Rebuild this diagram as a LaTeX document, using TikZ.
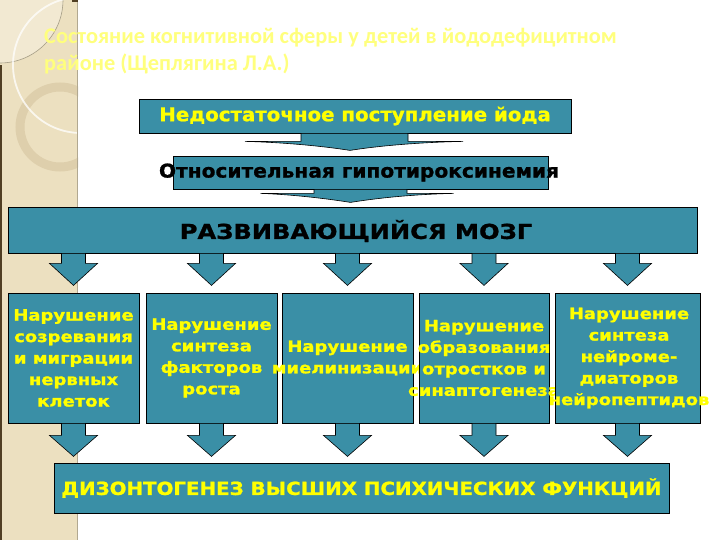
\documentclass[tikz,border=0pt]{standalone}
\usepackage{fontspec}
\setmainfont{DejaVu Sans}
\newfontfamily\titlefont{Carlito}
\newfontfamily\fbig[FakeStretch=1.18,FakeBold=1.2]{DejaVu Sans}
\newfontfamily\flow[FakeStretch=1.16,FakeBold=1.2]{DejaVu Sans}
\newfontfamily\fbot[FakeStretch=1.10,FakeBold=1.2]{DejaVu Sans}
\newfontfamily\fone[FakeStretch=1.04,FakeBold=1]{DejaVu Sans}
\newfontfamily\ftwo[FakeStretch=1.06,FakeBold=1]{DejaVu Sans}
\usetikzlibrary{calc}
\definecolor{tealbox}{RGB}{58,143,166}
\definecolor{ylw}{RGB}{255,255,0}
\definecolor{ttl}{RGB}{255,255,125}
\definecolor{beige}{RGB}{236,224,192}
\definecolor{beigelt}{RGB}{242,233,210}
\definecolor{ringc}{RGB}{222,207,172}
\definecolor{edgec}{RGB}{80,62,35}
\tikzset{
  boxst/.style={draw=black, line width=0.8pt, fill=tealbox, inner sep=0pt},
  arr/.style={draw=black, line width=0.6pt, fill=tealbox},
  ytext/.style={text=ylw, font=\flow\bfseries\fontsize{15.5}{21.5}\selectfont, align=center, inner sep=0pt},
  titlest/.style={anchor=west, text=ttl, font=\titlefont\bfseries\fontsize{22.4}{26}\selectfont, inner sep=0pt},
}
\newcommand{\dnarr}[3]{% top coordinate, shaft length, head length
  \draw[arr] (#1) ++(-12,0) -- ++(24,0) -- ++(0,#2) -- ++(12,0) -- ++(-24,#3) -- ++(-24,-#3) -- ++(12,0) -- cycle;}
\begin{document}
\begin{tikzpicture}[x=1pt,y=-1pt]
\useasboundingbox (0,0) rectangle (720,540);
\fill[white] (0,0) rectangle (720,540);
% decorative strip
\begin{scope}
  \clip (0,0) rectangle (78,540);
  \fill[beige] (0,0) rectangle (78,540);
  \fill[beigelt] (0,0) -- (63,0) arc (0:90:63) -- cycle;
  \draw[black!30!beige, line width=0.6pt] (63,0) arc (0:90:63);
  \draw[ringc, line width=9pt] (60,127) circle (40);
  \draw[white, opacity=0.75, line width=1.8pt] (81,65) circle (68);
  \fill[edgec] (0,65) rectangle (1.5,540);
  \draw[black!25!beige, line width=1pt] (77.5,0) -- (77.5,540);
  \fill[edgec] (72,0) rectangle (78,2);
\end{scope}
% title
\node[titlest] (t1) at (44,38) {Состояние когнитивной сферы у детей в йододефицитном};
\node[titlest] (t2) at (44,64) {районе (Щеплягина Л.А.)};
% top boxes
\node[boxst, minimum width=432pt, minimum height=34pt] (n1) at (355,116) {};
\node[text=ylw, font=\fone\bfseries\fontsize{19}{22}\selectfont, inner sep=0pt] (n1t) at (n1.center) {Недостаточное поступление йода};
\begin{scope}[shift={(n1.south)}]
  \draw[arr] (-54,0) -- (53,0) -- (53,8) -- (108,8) .. controls (60,9) and (20,13) .. (-5,17) .. controls (-30,13) and (-70,9) .. (-110,8) -- (-54,8) -- cycle;
\end{scope}
\node[boxst, minimum width=375pt, minimum height=33pt] (n2) at (360.5,172.5) {};
\node[text=black, font=\ftwo\bfseries\fontsize{19}{22}\selectfont, inner sep=0pt] (n2t) at (359,172.5) {Относительная гипотироксинемия};
\begin{scope}[shift={(n2.south)}]
  \draw[arr] (-46.5,0) -- (46.5,0) -- (46.5,4) -- (93,4) .. controls (50,5) and (15,9) .. (-10,13) .. controls (-35,9) and (-70,5) .. (-100,4) -- (-46.5,4) -- cycle;
\end{scope}
% big box
\node[boxst, minimum width=689pt, minimum height=46pt] (big) at (352.5,230) {};
\node[text=black, font=\fbig\bfseries\fontsize{20.5}{24}\selectfont, inner sep=0pt] (bigt) at (356,231) {РАЗВИВАЮЩИЙСЯ МОЗГ};
% lower boxes
\node[boxst, minimum width=131pt, minimum height=130pt] (A) at (73.5,358) {};
\node[ytext] (At) at (A.center) {Нарушение\\созревания\\и миграции\\нервных\\клеток};
\node[boxst, minimum width=131pt, minimum height=130pt] (B) at (211.5,358) {};
\node[ytext] (Bt) at (B.center) {Нарушение\\синтеза\\факторов\\роста};
\node[boxst, minimum width=131pt, minimum height=130pt] (C) at (347.5,358) {};
\node[ytext] (Ct) at (C.center) {Нарушение\\миелинизации};
\node[boxst, minimum width=130pt, minimum height=130pt] (D) at (484,358) {};
\node[ytext] (Dt) at (D.center) {Нарушение\\образования\\отростков и\\синаптогенеза};
\node[boxst, minimum width=145pt, minimum height=130pt] (E) at (627.5,358) {};
\node[ytext] (Et) at (629,358) {Нарушение\\синтеза\\нейроме-\\диаторов\\нейропептидов};
% arrows from big box
\foreach \n in {A,B,C,D,E} {\dnarr{big.south -| \n.north}{10}{22}}
% bottom box
\node[boxst, minimum width=615pt, minimum height=50pt] (bot) at (361.5,488) {};
\node[text=ylw, font=\fbot\bfseries\fontsize{18}{22}\selectfont, inner sep=0pt] (bott) at (bot.center) {ДИЗОНТОГЕНЕЗ ВЫСШИХ ПСИХИЧЕСКИХ ФУНКЦИЙ};
% arrows to bottom box
\foreach \n in {A,B,C,D,E} {\dnarr{\n.south}{12}{21}}
\end{tikzpicture}
\end{document}
